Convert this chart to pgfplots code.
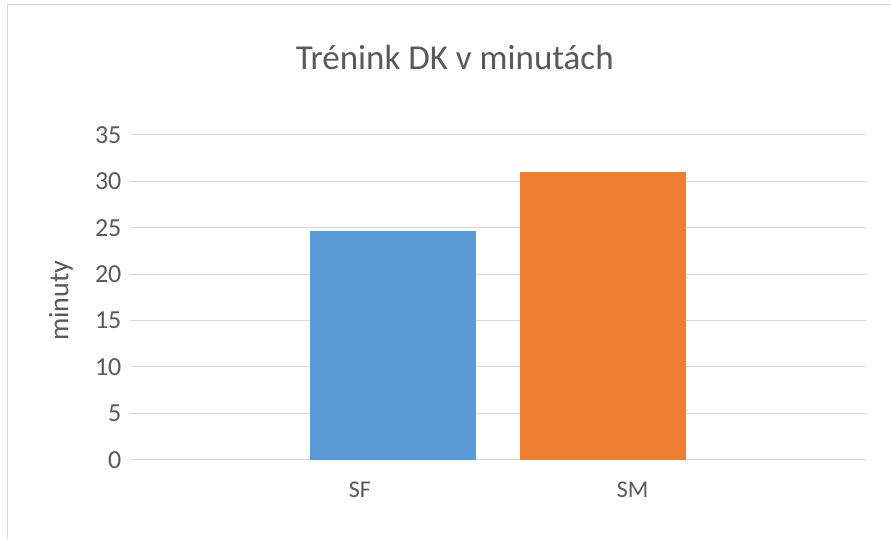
\documentclass[border=0pt]{standalone}
\usepackage{fontspec}
\setmainfont{Carlito}
\usepackage{pgfplots}
\pgfplotsset{compat=1.18}
\definecolor{bblue}{HTML}{5B9BD5}
\definecolor{borange}{HTML}{ED7D31}
\definecolor{gridc}{HTML}{D9D9D9}
\definecolor{txt}{HTML}{595959}
\begin{document}
\begin{tikzpicture}[x=1pt,y=1pt]
\path[fill=white] (0,0) rectangle (891,539);
\draw[color=gridc, line width=1pt] (8,0) -- (8,534) -- (891,534);
\node[text=txt, font=\fontsize{35}{40}\selectfont, anchor=base] at (455,469) {Trénink DK v minutách};
\node[text=txt, font=\fontsize{28}{32}\selectfont, rotate=90] at (61,238) {minuty};
\begin{axis}[at={(130pt,79pt)}, anchor=south west, scale only axis,
  width=736pt, height=325pt,
  xmin=130, xmax=866, ymin=0, ymax=35,
  ytick={0,5,...,35}, xtick={360,633}, xticklabels={SF,SM},
  axis line style={draw=none},
  ymajorgrids, grid style={gridc, line width=1pt},
  major tick length=0pt,
  ybar, bar width=166, bar shift=0pt,
  /pgf/number format/assume math mode=true,
  yticklabel style={text=txt, font=\fontsize{26}{30}\selectfont, anchor=east, xshift=-5pt},
  xticklabel style={text=txt, font=\fontsize{24}{28}\selectfont, anchor=base, yshift=-38pt},
  clip=false]
\addplot[fill=bblue, draw=none] coordinates {(393,24.6)};
\addplot[fill=borange, draw=none] coordinates {(603,31)};
\end{axis}
\end{tikzpicture}
\end{document}
